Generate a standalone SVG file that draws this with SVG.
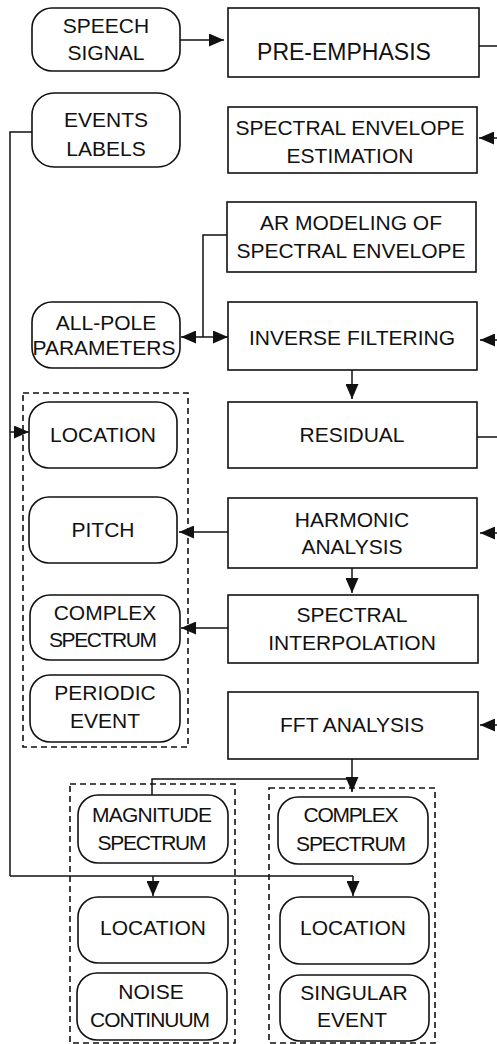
<svg xmlns="http://www.w3.org/2000/svg" width="497" height="1044" viewBox="0 0 497 1044">
  <defs>
    <marker id="arrow" viewBox="0 0 15 13" refX="15" refY="6.5" markerWidth="15" markerHeight="13" markerUnits="userSpaceOnUse" orient="auto">
      <path d="M0,0 L15,6.5 L0,13 Z" fill="#111"/>
    </marker>
    <marker id="arrowStart" viewBox="0 0 15 13" refX="15" refY="6.5" markerWidth="15" markerHeight="13" markerUnits="userSpaceOnUse" orient="auto-start-reverse">
      <path d="M0,0 L15,6.5 L0,13 Z" fill="#111"/>
    </marker>
  </defs>
  <style>
    .box { fill: #fff; stroke: #111; stroke-width: 1.6; }
    .term { fill: #fff; stroke: #111; stroke-width: 1.6; }
    .grp { fill: none; stroke: #111; stroke-width: 1.6; stroke-dasharray: 6 4; }
    .wire { fill: none; stroke: #111; stroke-width: 1.5; }
    .arr { marker-end: url(#arrow); }
    text { font-family: "Liberation Sans", Arial, sans-serif; font-size: 21px; fill: #111; text-anchor: middle; }
  </style>
  <rect width="497" height="1044" fill="#fff"/>

  <!-- dashed groupings of event parameters -->
  <g id="groups">
    <rect class="grp" x="23" y="393" width="165" height="354"/>
    <rect class="grp" x="70" y="784" width="165" height="259"/>
    <rect class="grp" x="269" y="788" width="166" height="255"/>
  </g>

  <!-- connectors -->
  <g id="connectors">
    <line class="wire arr" x1="180" y1="40" x2="224" y2="40"/>
    <line class="wire" x1="479" y1="46" x2="497" y2="46"/>
    <line class="wire arr" x1="497" y1="138" x2="479" y2="138"/>
    <polyline class="wire" points="32,132 10,132 10,876"/>
    <polyline class="wire" points="227,235 203,235 203,337"/>
    <line class="wire" x1="181" y1="337" x2="228" y2="337" marker-start="url(#arrowStart)" marker-end="url(#arrow)"/>
    <line class="wire arr" x1="497" y1="340" x2="480" y2="340"/>
    <line class="wire arr" x1="352" y1="370" x2="352" y2="399"/>
    <line class="wire" x1="477" y1="437" x2="497" y2="437"/>
    <line class="wire arr" x1="10" y1="432" x2="29" y2="432"/>
    <line class="wire arr" x1="228" y1="532" x2="179" y2="532"/>
    <line class="wire arr" x1="497" y1="533" x2="480" y2="533"/>
    <line class="wire arr" x1="352" y1="568" x2="352" y2="593"/>
    <line class="wire arr" x1="228" y1="628" x2="181" y2="628"/>
    <line class="wire arr" x1="497" y1="725" x2="480" y2="725"/>
    <line class="wire arr" x1="352" y1="759" x2="352" y2="792"/>
    <polyline class="wire" points="352,779 152,779 152,795"/>
    <line class="wire" x1="10" y1="876" x2="353" y2="876"/>
    <line class="wire arr" x1="153" y1="876" x2="153" y2="896"/>
    <line class="wire arr" x1="353" y1="876" x2="353" y2="896"/>
  </g>

  <!-- processing stages -->
  <g id="pre-emphasis">
    <rect class="box" x="228" y="8" width="251" height="69"/>
    <text x="344" y="60" style="font-size:23px">PRE-EMPHASIS</text>
  </g>
  <g id="spectral-envelope-estimation">
    <rect class="box" x="228" y="107" width="249" height="66"/>
    <text x="350" y="135">SPECTRAL ENVELOPE</text>
    <text x="350" y="163">ESTIMATION</text>
  </g>
  <g id="ar-modeling">
    <rect class="box" x="227" y="202" width="249" height="70"/>
    <text x="351" y="230">AR MODELING OF</text>
    <text x="351" y="258">SPECTRAL ENVELOPE</text>
  </g>
  <g id="inverse-filtering">
    <rect class="box" x="228" y="302" width="249" height="68"/>
    <text x="352" y="345">INVERSE FILTERING</text>
  </g>
  <g id="residual">
    <rect class="box" x="228" y="402" width="249" height="66"/>
    <text x="352" y="442">RESIDUAL</text>
  </g>
  <g id="harmonic-analysis">
    <rect class="box" x="228" y="498" width="249" height="70"/>
    <text x="352" y="527">HARMONIC</text>
    <text x="352" y="554">ANALYSIS</text>
  </g>
  <g id="spectral-interpolation">
    <rect class="box" x="228" y="595" width="250" height="68"/>
    <text x="352" y="622">SPECTRAL</text>
    <text x="352" y="650">INTERPOLATION</text>
  </g>
  <g id="fft-analysis">
    <rect class="box" x="228" y="692" width="250" height="67"/>
    <text x="352" y="732">FFT ANALYSIS</text>
  </g>

  <!-- signals and parameters -->
  <g id="speech-signal">
    <rect class="term" x="32" y="8" width="148" height="63" rx="20"/>
    <text x="106" y="33">SPEECH</text>
    <text x="106" y="60">SIGNAL</text>
  </g>
  <g id="events-labels">
    <rect class="term" x="32" y="93" width="148" height="74" rx="22"/>
    <text x="106" y="127">EVENTS</text>
    <text x="106" y="156">LABELS</text>
  </g>
  <g id="all-pole-parameters">
    <rect class="term" x="32" y="302" width="148" height="66" rx="20"/>
    <text x="106" y="330">ALL-POLE</text>
    <text x="104" y="355" textLength="143">PARAMETERS</text>
  </g>
  <g id="periodic-location">
    <rect class="term" x="29" y="402" width="148" height="66" rx="20"/>
    <text x="103" y="442">LOCATION</text>
  </g>
  <g id="pitch">
    <rect class="term" x="29" y="497" width="148" height="66" rx="20"/>
    <text x="103" y="537">PITCH</text>
  </g>
  <g id="periodic-complex-spectrum">
    <rect class="term" x="30" y="595" width="150" height="65" rx="20"/>
    <text x="105" y="620">COMPLEX</text>
    <text x="103" y="647" textLength="108">SPECTRUM</text>
  </g>
  <g id="periodic-event">
    <rect class="term" x="30" y="675" width="150" height="67" rx="20"/>
    <text x="105" y="700">PERIODIC</text>
    <text x="105" y="728">EVENT</text>
  </g>
  <g id="magnitude-spectrum">
    <rect class="term" x="78" y="795" width="150" height="68" rx="20"/>
    <text x="152" y="822" textLength="120">MAGNITUDE</text>
    <text x="152" y="850" textLength="109">SPECTRUM</text>
  </g>
  <g id="singular-complex-spectrum">
    <rect class="term" x="278" y="797" width="150" height="67" rx="20"/>
    <text x="351" y="822" textLength="95">COMPLEX</text>
    <text x="351" y="851" textLength="110">SPECTRUM</text>
  </g>
  <g id="noise-location">
    <rect class="term" x="78" y="897" width="150" height="66" rx="20"/>
    <text x="153" y="935">LOCATION</text>
  </g>
  <g id="singular-location">
    <rect class="term" x="280" y="897" width="149" height="67" rx="20"/>
    <text x="353" y="935">LOCATION</text>
  </g>
  <g id="noise-continuum">
    <rect class="term" x="77" y="973" width="150" height="67" rx="20"/>
    <text x="151" y="999">NOISE</text>
    <text x="150" y="1027" textLength="120">CONTINUUM</text>
  </g>
  <g id="singular-event">
    <rect class="term" x="280" y="975" width="149" height="66" rx="20"/>
    <text x="354" y="1000">SINGULAR</text>
    <text x="352" y="1027">EVENT</text>
  </g>
</svg>
